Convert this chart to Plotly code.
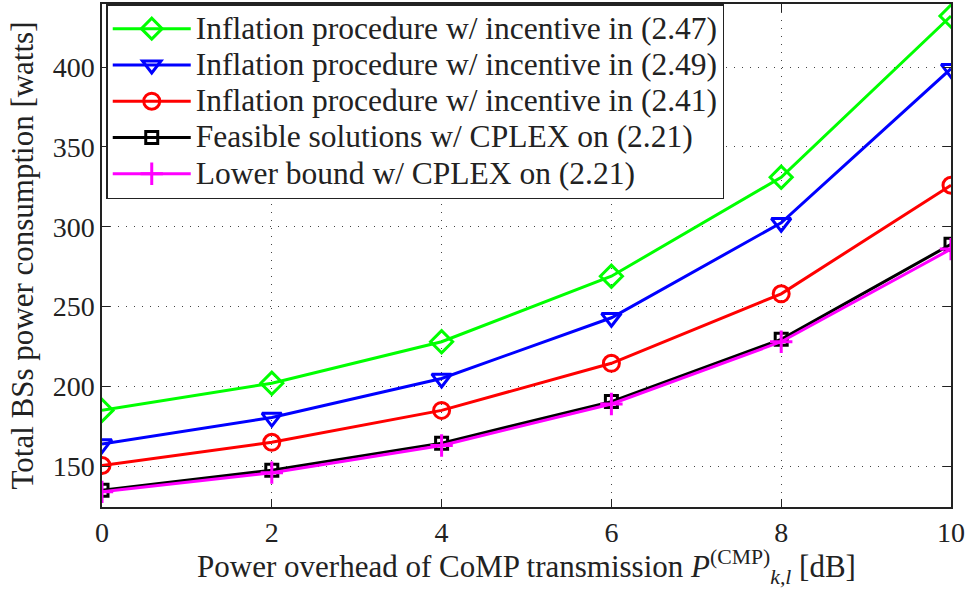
import plotly.graph_objects as go

overhead_db = [0, 2, 4, 6, 8, 10]

incentive_247 = [185, 202, 228, 269, 331, 432]
incentive_249 = [164, 180.5, 205, 243, 302.5, 399]
incentive_241 = [150.5, 165, 185, 214.5, 258, 326]
cplex_feasible = [135, 147.5, 164.5, 190.5, 229.5, 289]
cplex_lower = [134, 146, 163, 189, 228, 286]

series_names = [
    "Inflation procedure w/ incentive in (2.47)",
    "Inflation procedure w/ incentive in (2.49)",
    "Inflation procedure w/ incentive in (2.41)",
    "Feasible solutions w/ CPLEX on (2.21)",
    "Lower bound w/ CPLEX on (2.21)",
]

FONT = "Liberation Serif, Times New Roman, serif"
INK = "#222"

fig = go.Figure()

styles = [
    (incentive_247, "#00ff00", "diamond-open", 17),
    (incentive_249, "#0000ff", "triangle-down-open", 17),
    (incentive_241, "#ff0000", "circle-open", 16),
    (cplex_feasible, "#000000", "square-open", 12),
    (cplex_lower, "#ff00ff", "cross-thin-open", 16),
]

for name, (values, color, symbol, size) in zip(series_names, styles):
    fig.add_trace(
        go.Scatter(
            x=overhead_db,
            y=values,
            mode="lines+markers",
            # legend rows are spaced from the legend font size, text drawn a bit larger
            name='<span style="font-size:31.5px">' + name + "</span>",
            line=dict(color=color, width=3),
            marker=dict(symbol=symbol, size=size, color=color,
                        line=dict(color=color, width=3)),
        )
    )

axis_style = dict(
    showline=True,
    linecolor=INK,
    linewidth=1.5,
    mirror="allticks",
    ticks="inside",
    ticklen=8,
    tickcolor=INK,
    showgrid=True,
    gridcolor="#444",
    griddash="1px,7px",
    gridwidth=1,
    zeroline=False,
    tickfont=dict(family=FONT, size=28, color=INK),
)

fig.update_xaxes(
    range=[0, 10],
    tickvals=[0, 2, 4, 6, 8, 10],
    title=dict(
        text="Power overhead of CoMP transmission <i>P</i><sup>(CMP)</sup><sub><i>k,l</i></sub> [dB]",
        font=dict(family=FONT, size=31, color=INK),
        standoff=6,
    ),
    **axis_style,
)
fig.update_yaxes(
    range=[124.5, 439.5],
    tickvals=[150, 200, 250, 300, 350, 400],
    title=dict(
        text="Total BSs power consumption [watts]",
        font=dict(family=FONT, size=31, color=INK),
        standoff=10,
    ),
    **axis_style,
)

fig.update_layout(
    width=966,
    height=589,
    margin=dict(l=102, r=15, t=4, b=82, autoexpand=False),
    plot_bgcolor="white",
    paper_bgcolor="white",
    showlegend=True,
    legend=dict(
        x=0.005,
        y=1.0,
        xanchor="left",
        yanchor="top",
        bgcolor="white",
        bordercolor=INK,
        borderwidth=1.5,
        font=dict(family=FONT, size=25.6, color=INK),
        tracegroupgap=0,
        itemwidth=78,
    ),
)

fig.write_html(
    "out.html",
    config={"displayModeBar": False},
    post_script="document.body.style.margin='0';",
)
